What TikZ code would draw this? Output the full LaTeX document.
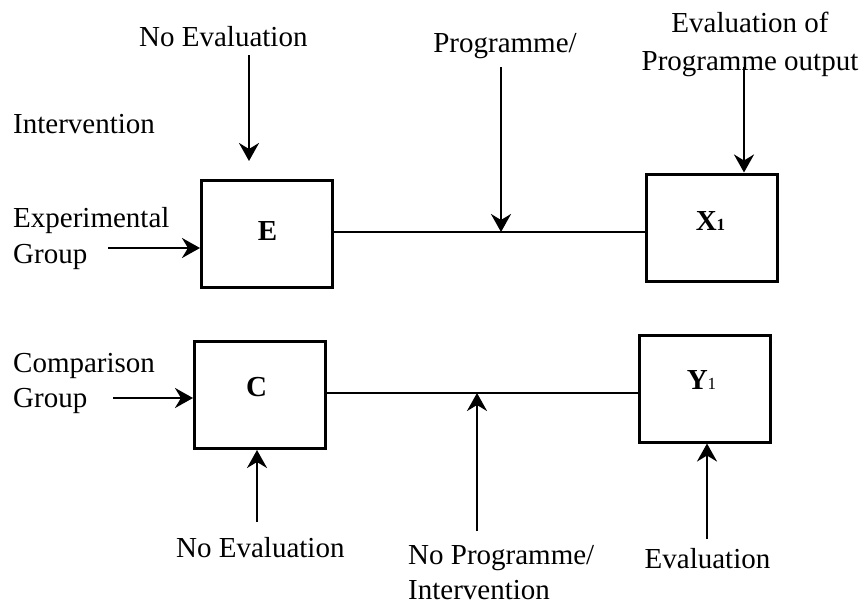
\documentclass[tikz,border=0pt]{standalone}
\usepackage{fontspec}
\setmainfont{Liberation Serif}
\usetikzlibrary{arrows.meta}
\begin{document}
\begin{tikzpicture}[x=1pt,y=-1pt,
  every node/.style={font=\fontsize{29}{36}\selectfont, inner sep=0pt},
  txt/.style={anchor=base west, align=left},
  ctxt/.style={anchor=base, align=center},
  box/.style={draw, line width=3pt, minimum width=131pt, minimum height=107pt},
  boxlabel/.style={font=\fontsize{29}{36}\selectfont\bfseries},
  link/.style={line width=2.3pt},
  arr/.style={line width=2.6pt, -{Stealth[length=18pt,width=20pt,inset=6pt]}},
]
\fill[white] (0,0) rectangle (867,606);
\useasboundingbox (0,0) rectangle (867,606);

% groups and outcomes
\node[box] (E)  at (267,234)   {};
\node[box] (X1) at (712,227.5) {};
\node[box] (C)  at (260,395)   {};
\node[box] (Y1) at (704.5,388.5) {};

\node[boxlabel] (Et)  at (267.5,230.5) {E};
\node[boxlabel] (X1t) at (710.5,220.5) {X{\fontsize{17}{17}\selectfont 1}};
\node[boxlabel] (Ct)  at (256.5,387.5) {C};
\node[boxlabel] (Y1t) at (701.5,380)   {\textbf{Y}{\mdseries\fontsize{17}{17}\selectfont 1}};

% text labels (multi-line nodes sit on the baseline of their last line)
\node[txt] (noevalT) at (139,46) {No Evaluation};
\node[txt] (interv)  at (13,133) {Intervention};
\node[txt] (expg)    at (13,263) {Experimental\\Group};
\node[ctxt] (prog)   at (505,52) {Programme/};
\node[ctxt,font=\fontsize{29}{38}\selectfont] (evalout) at (750,70) {Evaluation of\\Programme output};
\node[txt,font=\fontsize{29}{35}\selectfont] (cmpg)    at (13,407) {Comparison\\Group};
\node[txt] (noevalB) at (176,557) {No Evaluation};
\node[txt,font=\fontsize{29}{35}\selectfont] (noprog)  at (408,599) {No Programme/\\Intervention};
\node[ctxt] (evalB)  at (707.5,568) {Evaluation};

% arrow ends
\coordinate (neTs) at (249,55);
\coordinate (neTe) at (249,161);
\coordinate (expS) at (108,248);
\coordinate (progS) at (501,67);
\coordinate (lineTop) at (501,232);
\coordinate (evS) at (744,67);
\coordinate (cmpS) at (113,398);
\coordinate (lineBot) at (477,393);
\coordinate (npS) at (477,531);
\coordinate (neBs) at (257,522);
\coordinate (evBs) at (707,539);

% top row
\draw[arr] (neTs) -- (neTe);
\draw[arr] (expS) -- (expS -| E.west);
\draw[link] (E.east |- lineTop) -- (X1.west |- lineTop);
\draw[arr] (progS) -- (lineTop);
\draw[arr] (evS) -- (evS |- X1.north);

% bottom row
\draw[arr] (cmpS) -- (cmpS -| C.west);
\draw[link] (C.east |- lineBot) -- (Y1.west |- lineBot);
\draw[arr] (npS) -- (lineBot);
\draw[arr] (neBs) -- (neBs |- C.south);
\draw[arr] (evBs) -- (evBs |- Y1.south);
\end{tikzpicture}
\end{document}
